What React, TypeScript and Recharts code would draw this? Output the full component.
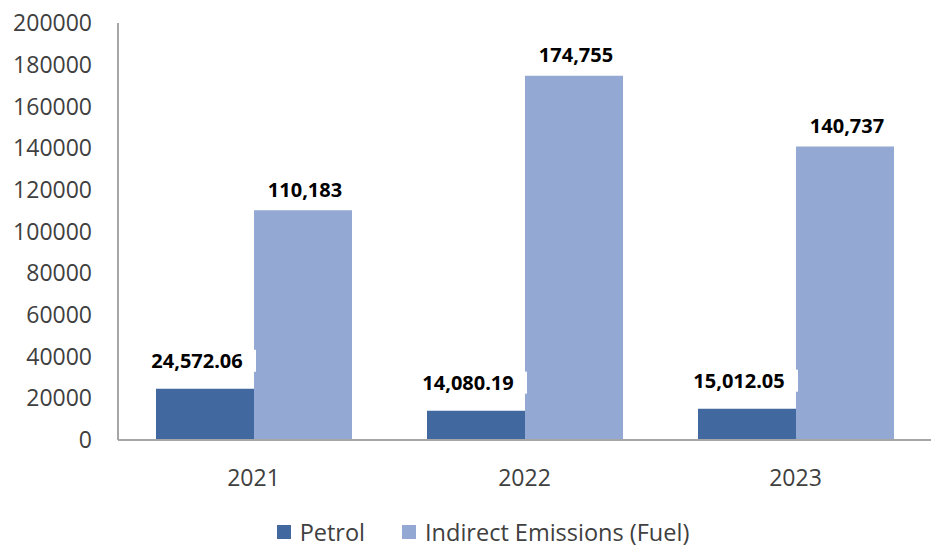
import React from 'react'
import { BarChart, Bar, XAxis, YAxis, Legend, LabelList } from 'recharts'

const years = ['2021', '2022', '2023']
const petrol = [24572.06, 14080.19, 15012.05]
const indirectFuel = [110183, 174755, 140737]
const yTicks = [0, 20000, 40000, 60000, 80000, 100000, 120000, 140000, 160000, 180000, 200000]

const data = years.map((year, i) => ({
  year,
  petrol: petrol[i],
  indirect: indirectFuel[i],
}))

const FONT = '"Open Sans", "Noto Sans", sans-serif'
const LABEL_FONT = '"Noto Sans", sans-serif'

const fmtPetrol = (v: number) =>
  v.toLocaleString('en-US', { minimumFractionDigits: 2, maximumFractionDigits: 2 })
const fmtIndirect = (v: number) => v.toLocaleString('en-US')

// petrol labels sit on a white box that bleeds slightly into the neighbouring bar
const PetrolLabel = (props: any) => {
  const { x, y, width, value } = props
  return (
    <g>
      <rect x={x - 11} y={y - 39} width={width + 13} height={22} fill="#ffffff" />
      <text
        x={x + width / 2 - 8}
        y={y - 28}
        textAnchor="middle"
        dominantBaseline="central"
        fontFamily={LABEL_FONT}
        fontWeight={700}
        fontSize={20}
        fill="#000000"
      >
        {fmtPetrol(value)}
      </text>
    </g>
  )
}

const IndirectLabel = (props: any) => {
  const { x, y, width, value } = props
  return (
    <text
      x={x + width / 2 + 2}
      y={y - 21}
      textAnchor="middle"
      dominantBaseline="central"
      fontFamily={LABEL_FONT}
      fontWeight={700}
      fontSize={20}
      fill="#000000"
    >
      {fmtIndirect(value)}
    </text>
  )
}

const renderLegend = () => (
  <div
    style={{
      display: 'flex',
      justifyContent: 'center',
      alignItems: 'center',
      fontFamily: FONT,
      fontSize: 23.5,
      color: '#404040',
      paddingLeft: 35,
    }}
  >
    <span style={{ display: 'inline-flex', alignItems: 'center', marginRight: 37 }}>
      <span style={{ width: 14, height: 14, background: '#41699f', marginRight: 9 }} />
      Petrol
    </span>
    <span style={{ display: 'inline-flex', alignItems: 'center' }}>
      <span style={{ width: 14, height: 14, background: '#93a8d2', marginRight: 9 }} />
      Indirect Emissions (Fuel)
    </span>
  </div>
)

export default function App() {
  return (
    <div style={{ position: 'absolute', left: 0, top: 0, background: '#fff' }}>
      <BarChart
        width={931}
        height={548}
        data={data}
        margin={{ top: 23, right: 0, bottom: 0, left: 0 }}
        barGap={0}
        barSize={98}
      >
        <XAxis
          dataKey="year"
          axisLine={{ stroke: '#a6a6a6', strokeWidth: 2 }}
          tickLine={false}
          tickSize={0}
          tickMargin={30}
          height={76}
          tick={{ fontFamily: FONT, fontSize: 23, fill: '#404040' }}
        />
        <YAxis
          width={118}
          domain={[0, 200000]}
          ticks={yTicks}
          interval={0}
          axisLine={{ stroke: '#a6a6a6', strokeWidth: 2 }}
          tickLine={false}
          tickSize={0}
          tickMargin={26}
          tick={{ fontFamily: FONT, fontSize: 23, fill: '#404040' }}
        />
        <Legend verticalAlign="bottom" content={renderLegend} />
        <Bar dataKey="petrol" name="Petrol" fill="#41699f" isAnimationActive={false}>
          <LabelList dataKey="petrol" content={PetrolLabel} />
        </Bar>
        <Bar dataKey="indirect" name="Indirect Emissions (Fuel)" fill="#93a8d2" isAnimationActive={false}>
          <LabelList dataKey="indirect" content={IndirectLabel} />
        </Bar>
      </BarChart>
    </div>
  )
}
